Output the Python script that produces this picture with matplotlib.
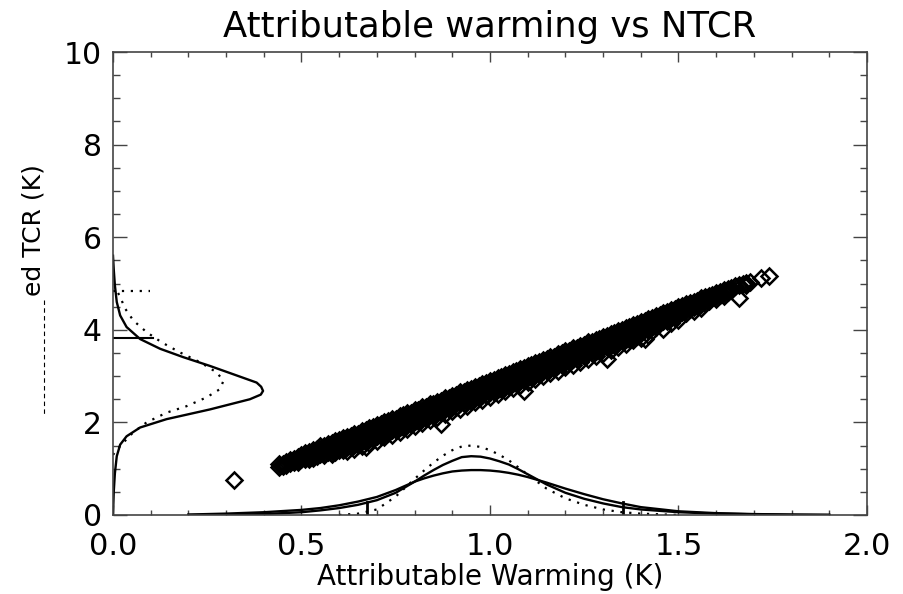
import matplotlib
matplotlib.use('Agg')
import matplotlib.pyplot as plt
from matplotlib.lines import Line2D
from matplotlib.ticker import MultipleLocator

plt.rcParams['font.family'] = ['DejaVu Sans']

# scatter cloud, one column of NTCR values per warming value
warm_cols = [0.32, 0.44, 0.45, 0.46, 0.47, 0.48, 0.49, 0.50, 0.51, 0.52,
             0.53, 0.54, 0.55, 0.56, 0.57, 0.58, 0.59, 0.60, 0.61, 0.62,
             0.63, 0.64, 0.65, 0.66, 0.67, 0.68, 0.69, 0.70, 0.71, 0.72,
             0.73, 0.74, 0.75, 0.76, 0.77, 0.78, 0.79, 0.80, 0.81, 0.82,
             0.83, 0.84, 0.85, 0.86, 0.87, 0.88, 0.89, 0.90, 0.91, 0.92,
             0.93, 0.94, 0.95, 0.96, 0.97, 0.98, 0.99, 1.00, 1.01, 1.02,
             1.03, 1.04, 1.05, 1.06, 1.07, 1.08, 1.09, 1.10, 1.11, 1.12,
             1.13, 1.14, 1.15, 1.16, 1.17, 1.18, 1.19, 1.20, 1.21, 1.22,
             1.23, 1.24, 1.25, 1.26, 1.27, 1.28, 1.29, 1.30, 1.31, 1.32,
             1.33, 1.34, 1.35, 1.36, 1.37, 1.38, 1.39, 1.40, 1.41, 1.42,
             1.43, 1.44, 1.45, 1.46, 1.47, 1.48, 1.49, 1.50, 1.51, 1.52,
             1.53, 1.54, 1.55, 1.56, 1.57, 1.58, 1.59, 1.60, 1.61, 1.62,
             1.63, 1.64, 1.65, 1.66, 1.67, 1.68, 1.69, 1.72, 1.74]
tcr_cols = [
    [0.76], [1.04, 1.10], [1.11, 1.06], [1.08, 1.15], [1.18, 1.12],
    [1.22, 1.14, 1.18], [1.25, 1.19, 1.15], [1.29, 1.20, 1.24], [1.34, 1.28, 1.22],
    [1.35, 1.26, 1.30, 1.20],
    [1.41, 1.35, 1.29, 1.24], [1.42, 1.33, 1.37, 1.27], [1.48, 1.42, 1.37, 1.31],
    [1.49, 1.41, 1.45, 1.34, 1.30], [1.54, 1.48, 1.43, 1.37],
    [1.56, 1.49, 1.45, 1.38, 1.32], [1.60, 1.54, 1.48, 1.42, 1.35],
    [1.62, 1.56, 1.52, 1.46, 1.40], [1.66, 1.60, 1.54, 1.48, 1.41],
    [1.69, 1.63, 1.58, 1.52, 1.46, 1.38],
    [1.71, 1.65, 1.59, 1.53, 1.46], [1.75, 1.70, 1.64, 1.58, 1.52, 1.43],
    [1.76, 1.70, 1.64, 1.58, 1.51], [1.81, 1.75, 1.70, 1.65, 1.59, 1.49],
    [1.83, 1.77, 1.71, 1.65, 1.58, 1.47], [1.87, 1.81, 1.76, 1.70, 1.64, 1.55],
    [1.89, 1.83, 1.77, 1.71, 1.64], [1.94, 1.88, 1.82, 1.76, 1.70, 1.60],
    [1.96, 1.90, 1.84, 1.78, 1.71], [2.00, 1.94, 1.89, 1.83, 1.77, 1.68],
    [2.02, 1.96, 1.90, 1.84, 1.77], [2.07, 2.01, 1.95, 1.89, 1.83, 1.73],
    [2.08, 2.02, 1.96, 1.90, 1.83], [2.13, 2.07, 2.02, 1.96, 1.90, 1.80],
    [2.15, 2.09, 2.03, 1.97, 1.90], [2.20, 2.14, 2.08, 2.02, 1.96, 1.86],
    [2.21, 2.15, 2.09, 2.03, 1.96], [2.26, 2.20, 2.14, 2.08, 2.02, 1.93],
    [2.27, 2.21, 2.15, 2.09, 2.02], [2.33, 2.27, 2.21, 2.15, 2.09, 1.99],
    [2.34, 2.28, 2.22, 2.16, 2.09], [2.39, 2.33, 2.27, 2.21, 2.15, 2.05],
    [2.40, 2.34, 2.28, 2.22, 2.15], [2.45, 2.40, 2.34, 2.28, 2.21, 2.11],
    [2.47, 2.41, 2.35, 2.29, 2.22, 1.96], [2.52, 2.46, 2.40, 2.34, 2.28, 2.18],
    [2.53, 2.47, 2.41, 2.35, 2.28], [2.58, 2.52, 2.46, 2.40, 2.34, 2.24],
    [2.59, 2.53, 2.47, 2.41, 2.34], [2.65, 2.59, 2.53, 2.47, 2.41, 2.30],
    [2.66, 2.60, 2.54, 2.48, 2.41], [2.71, 2.65, 2.59, 2.53, 2.47, 2.36],
    [2.72, 2.66, 2.60, 2.54, 2.47], [2.77, 2.71, 2.65, 2.59, 2.53, 2.43],
    [2.78, 2.72, 2.66, 2.60, 2.53], [2.84, 2.78, 2.72, 2.66, 2.60, 2.49],
    [2.85, 2.79, 2.73, 2.67, 2.60], [2.90, 2.84, 2.78, 2.72, 2.66, 2.55],
    [2.91, 2.85, 2.79, 2.73, 2.66], [2.96, 2.90, 2.84, 2.78, 2.72, 2.62],
    [2.98, 2.92, 2.86, 2.80, 2.73], [3.03, 2.97, 2.91, 2.85, 2.79, 2.68],
    [3.04, 2.98, 2.92, 2.86, 2.79], [3.09, 3.03, 2.97, 2.91, 2.85, 2.74],
    [3.10, 3.04, 2.98, 2.92, 2.85], [3.16, 3.10, 3.04, 2.98, 2.91, 2.80],
    [3.17, 3.11, 3.05, 2.99, 2.92, 2.67], [3.22, 3.16, 3.10, 3.04, 2.98, 2.87],
    [3.23, 3.17, 3.11, 3.05, 2.98], [3.28, 3.22, 3.16, 3.10, 3.04, 2.93],
    [3.30, 3.24, 3.18, 3.12, 3.05], [3.35, 3.29, 3.23, 3.17, 3.11, 3.00],
    [3.36, 3.30, 3.24, 3.18, 3.11], [3.41, 3.35, 3.29, 3.23, 3.17, 3.06],
    [3.42, 3.36, 3.30, 3.24, 3.17], [3.47, 3.41, 3.35, 3.29, 3.23, 3.12],
    [3.49, 3.43, 3.37, 3.31, 3.24], [3.54, 3.48, 3.42, 3.36, 3.30, 3.19],
    [3.55, 3.49, 3.43, 3.37, 3.30], [3.60, 3.54, 3.48, 3.42, 3.36, 3.25],
    [3.61, 3.55, 3.49, 3.43, 3.36], [3.66, 3.60, 3.55, 3.49, 3.43, 3.31],
    [3.68, 3.62, 3.56, 3.50, 3.43], [3.73, 3.67, 3.61, 3.55, 3.49, 3.38],
    [3.74, 3.68, 3.62, 3.56, 3.49], [3.79, 3.73, 3.67, 3.61, 3.55, 3.44],
    [3.81, 3.75, 3.69, 3.63, 3.56], [3.85, 3.79, 3.74, 3.68, 3.62, 3.50],
    [3.87, 3.81, 3.75, 3.69, 3.62, 3.38], [3.92, 3.86, 3.80, 3.74, 3.68, 3.57],
    [3.93, 3.87, 3.81, 3.75, 3.68], [3.98, 3.92, 3.86, 3.80, 3.74, 3.63],
    [4.00, 3.94, 3.88, 3.82, 3.75], [4.04, 3.98, 3.93, 3.87, 3.81, 3.70],
    [4.06, 4.00, 3.94, 3.88, 3.81], [4.11, 4.05, 3.99, 3.93, 3.87, 3.77],
    [4.12, 4.06, 4.00, 3.94, 3.87], [4.17, 4.11, 4.05, 3.99, 3.93, 3.83],
    [4.19, 4.13, 4.07, 4.01, 3.80], [4.23, 4.17, 4.12, 4.06, 3.99, 3.89],
    [4.25, 4.19, 4.13, 4.07], [4.30, 4.24, 4.18, 4.12, 4.06],
    [4.32, 4.26, 4.20, 4.14], [4.36, 4.30, 4.24, 4.18, 4.02],
    [4.38, 4.32, 4.26, 4.20], [4.42, 4.36, 4.31, 4.25, 4.15],
    [4.44, 4.38, 4.32, 4.26], [4.49, 4.43, 4.37, 4.31, 4.22],
    [4.51, 4.45, 4.39], [4.55, 4.49, 4.43, 4.36],
    [4.57, 4.51, 4.45], [4.61, 4.55, 4.49, 4.40],
    [4.63, 4.57, 4.51], [4.68, 4.62, 4.56, 4.48],
    [4.70, 4.64, 4.58], [4.74, 4.68, 4.62],
    [4.76, 4.70], [4.80, 4.74, 4.66],
    [4.82, 4.76], [4.86, 4.80, 4.72],
    [4.88, 4.82], [4.91, 4.85],
    [4.94], [4.96, 4.68], [4.99], [5.02, 4.97], [5.04], [5.12], [5.16],
]

# pdfs of attributable warming (drawn along the x axis)
aw_grid = [0.2, 0.3, 0.4, 0.5, 0.55, 0.6, 0.65, 0.7, 0.75, 0.8, 0.825, 0.85,
           0.875, 0.9, 0.925, 0.95, 0.975, 1.0, 1.025, 1.05, 1.075, 1.1, 1.15,
           1.2, 1.25, 1.3, 1.35, 1.4, 1.5, 1.6, 1.7, 1.8, 1.9]
aw_pdf_tall = [0.0, 0.005, 0.02, 0.06, 0.10, 0.15, 0.22, 0.32, 0.48, 0.72, 0.85,
               0.97, 1.08, 1.17, 1.25, 1.27, 1.26, 1.22, 1.16, 1.09, 0.99, 0.88,
               0.66, 0.48, 0.35, 0.25, 0.17, 0.12, 0.06, 0.03, 0.015, 0.005, 0.0]
aw_pdf_broad = [0.01, 0.03, 0.06, 0.11, 0.15, 0.21, 0.29, 0.39, 0.54, 0.72, 0.79,
                0.85, 0.90, 0.94, 0.96, 0.97, 0.97, 0.96, 0.94, 0.91, 0.87, 0.82,
                0.70, 0.57, 0.45, 0.34, 0.25, 0.17, 0.08, 0.04, 0.02, 0.01, 0.005]
aw_grid_dot = [0.6, 0.65, 0.7, 0.75, 0.8, 0.825, 0.85, 0.875, 0.9, 0.925, 0.95,
               0.975, 1.0, 1.025, 1.05, 1.075, 1.1, 1.15, 1.2, 1.25, 1.3, 1.35,
               1.4, 1.5]
aw_pdf_dot = [0.0, 0.03, 0.12, 0.40, 0.78, 0.96, 1.13, 1.28, 1.40, 1.48, 1.50,
              1.47, 1.40, 1.30, 1.18, 1.03, 0.87, 0.57, 0.36, 0.22, 0.12, 0.06,
              0.03, 0.0]
aw_range = [0.674, 1.353]

# pdfs of NTCR (drawn along the y axis)
tcr_grid = [0.0, 0.5, 0.9, 1.27, 1.52, 1.70, 1.89, 2.07, 2.28, 2.50, 2.60, 2.68,
            2.77, 2.86, 3.04, 3.22, 3.41, 3.59, 3.80, 4.06, 4.31, 4.60, 4.96,
            5.3, 5.6]
tcr_pdf = [0.0, 0.002, 0.005, 0.010, 0.019, 0.036, 0.072, 0.142, 0.257, 0.363,
           0.392, 0.398, 0.393, 0.381, 0.319, 0.257, 0.186, 0.125, 0.072, 0.036,
           0.019, 0.010, 0.005, 0.002, 0.0]
tcr_grid_dot = [1.3, 1.5, 1.78, 2.0, 2.21, 2.35, 2.54, 2.72, 2.90, 3.08, 3.30,
                3.51, 3.73, 3.95, 4.20, 4.46, 4.71, 4.85]
tcr_pdf_dot = [0.0, 0.02, 0.053, 0.089, 0.142, 0.195, 0.248, 0.284, 0.293, 0.275,
               0.231, 0.178, 0.129, 0.089, 0.054, 0.032, 0.019, 0.01]
tcr_mark = 3.83
tcr_mark_dot = 4.84

W, H = 904, 594
fig = plt.figure(figsize=(W / 100, H / 100), dpi=100)
ax = fig.add_axes([113 / W, 1 - 515 / H, 754 / W, 463 / H])

xs, ys = [], []
for x, col in zip(warm_cols, tcr_cols):
    for y in col:
        xs.append(x)
        ys.append(y)
ax.plot(xs, ys, 'D', ls='none', mfc='none', mec='black', ms=8.5, mew=1.8)

# bottom pdfs
ax.plot(aw_grid, aw_pdf_tall, color='black', lw=1.7)
ax.plot(aw_grid, aw_pdf_broad, color='black', lw=1.7)
ax.plot(aw_grid_dot, aw_pdf_dot, color='black', lw=1.6, ls=(0, (1, 3)))
for xr in aw_range:
    ax.plot([xr, xr], [0, 0.27], color='black', lw=2)

# left pdfs
ax.plot(tcr_pdf, tcr_grid, color='black', lw=1.7)
ax.plot(tcr_pdf_dot, tcr_grid_dot, color='black', lw=1.6, ls=(0, (1, 3)))
ax.plot([0, 0.106], [tcr_mark, tcr_mark], color='black', lw=1.5)
ax.plot([0, 0.098], [tcr_mark_dot, tcr_mark_dot], color='black', lw=1.6, ls=(0, (1, 3)))

ax.set_xlim(0, 2)
ax.set_ylim(0, 10)
ax.xaxis.set_minor_locator(MultipleLocator(0.1))
ax.yaxis.set_minor_locator(MultipleLocator(0.5))
ax.set_xticks([0, 0.5, 1.0, 1.5, 2.0])
ax.set_xticklabels(['0.0', '0.5', '1.0', '1.5', '2.0'])
ax.set_yticks([0, 2, 4, 6, 8, 10])
ax.set_yticklabels(['0', '2', '4', '6', '8', '10'])

for s in ax.spines.values():
    s.set_color('#444444')
    s.set_linewidth(1.2)
ax.tick_params(axis='x', which='major', direction='in', top=True, length=7,
               width=1, color='#444444', labelsize=22, pad=12)
ax.tick_params(axis='x', which='minor', direction='in', top=True, length=3.5,
               width=1, color='#444444')
ax.tick_params(axis='y', which='major', direction='in', right=True, length=10,
               width=1, color='#444444', labelsize=21.5, pad=8)
ax.tick_params(axis='y', which='minor', direction='in', right=True, length=5,
               width=1, color='#444444')

fig.text(490 / W, 1 - 37 / H, 'Attributable warming vs NTCR', ha='center',
         va='baseline', fontsize=25.5)
fig.text(490 / W, 1 - 585 / H, 'Attributable Warming (K)', ha='center',
         va='baseline', fontsize=20)
fig.text(34 / W, 1 - 230 / H, 'ed TCR (K)', rotation=90, ha='center',
         va='center', fontsize=18)
fig.add_artist(Line2D([44 / W, 44 / W], [1 - 300 / H, 1 - 415 / H],
                      color='black', lw=0.8, ls=(0, (4, 3))))

fig.savefig('out.png', dpi=100)
